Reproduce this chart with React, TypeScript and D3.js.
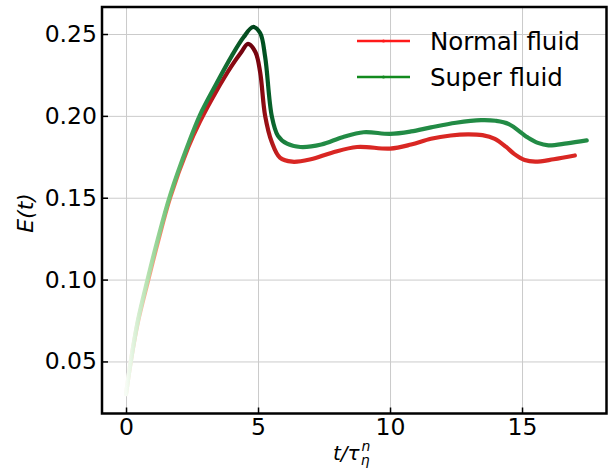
import * as d3 from "d3";
import { useEffect, useRef } from "react";

// time axis t / tau_eta^n and energy E(t)
const normalT = [0, 0.18, 0.45, 0.83, 1.2, 1.67, 2.35, 2.8, 3.4, 4.0, 4.35, 4.62, 4.9, 5.08, 5.27, 5.52, 5.83, 6.3, 7.0, 7.8, 8.75, 10.0, 10.8, 11.55, 12.3, 12.95, 13.5, 13.97, 14.4, 14.7, 15.1, 15.5, 16.2, 17.0];
const normalE = [0.03, 0.05, 0.074, 0.099, 0.1225, 0.15, 0.1805, 0.1965, 0.2145, 0.2305, 0.2385, 0.244, 0.239, 0.2267, 0.2, 0.184, 0.1745, 0.172, 0.1735, 0.1775, 0.181, 0.18, 0.1825, 0.186, 0.188, 0.1887, 0.1882, 0.186, 0.181, 0.1768, 0.173, 0.172, 0.1735, 0.1758];

const superT = [0, 0.18, 0.45, 0.83, 1.2, 1.67, 2.35, 2.8, 3.4, 4.0, 4.45, 4.81, 5.08, 5.27, 5.52, 5.75, 6.1, 6.6, 7.4, 8.2, 9.0, 10.0, 10.8, 11.55, 12.5, 13.45, 14.0, 14.5, 15.2, 15.6, 16.0, 16.7, 17.45];
const superE = [0.03, 0.05, 0.075, 0.101, 0.1245, 0.1515, 0.1825, 0.2005, 0.219, 0.2365, 0.248, 0.2543, 0.2506, 0.236, 0.2, 0.188, 0.183, 0.181, 0.1825, 0.187, 0.19, 0.189, 0.1905, 0.193, 0.1958, 0.1974, 0.197, 0.195, 0.187, 0.1835, 0.182, 0.1832, 0.185];

// colour position along each curve (t, colormap fraction)
const normalStops = [[0, 0.0], [0.8, 0.3], [1.7, 0.5], [3.0, 0.75], [4.62, 1.0], [5.1, 0.95], [5.9, 0.7], [17.0, 0.7]];
const superStops = [[0, 0.0], [0.8, 0.3], [1.7, 0.52], [3.0, 0.75], [4.81, 1.0], [5.3, 0.95], [6.2, 0.75], [17.45, 0.75]];

const xTicks = [0, 5, 10, 15];
const yTicks = [0.05, 0.1, 0.15, 0.2, 0.25];

const W = 608;
const H = 476;
const plot = { left: 102, right: 606.5, top: 7, bottom: 413.5 };
const font = "DejaVu Sans, sans-serif";

export default function App() {
  const xAxisRef = useRef<SVGGElement>(null);
  const yAxisRef = useRef<SVGGElement>(null);
  const xGridRef = useRef<SVGGElement>(null);
  const yGridRef = useRef<SVGGElement>(null);

  const x = d3.scaleLinear().domain([-0.91, 18.2]).range([plot.left, plot.right]);
  const y = d3.scaleLinear().domain([0.0182, 0.2665]).range([plot.bottom, plot.top]);

  useEffect(() => {
    const h = plot.bottom - plot.top;
    const w = plot.right - plot.left;
    d3.select(xGridRef.current!)
      .call(d3.axisBottom(x).tickValues(xTicks).tickSize(-h).tickFormat(() => ""))
      .call((g) => g.select(".domain").remove())
      .call((g) => g.selectAll("line").attr("stroke", "#cbcbcb").attr("stroke-width", 1));
    d3.select(yGridRef.current!)
      .call(d3.axisLeft(y).tickValues(yTicks).tickSize(-w).tickFormat(() => ""))
      .call((g) => g.select(".domain").remove())
      .call((g) => g.selectAll("line").attr("stroke", "#cbcbcb").attr("stroke-width", 1));

    d3.select(xAxisRef.current!)
      .call(d3.axisBottom(x).tickValues(xTicks).tickSize(-6).tickPadding(5).tickFormat(d3.format("d")))
      .call((g) => g.select(".domain").remove())
      .call((g) => g.selectAll("line").attr("stroke", "#000").attr("stroke-width", 1.5))
      .call((g) => g.selectAll("text").attr("font-size", 23.5).attr("font-family", font).attr("fill", "#000"));
    d3.select(yAxisRef.current!)
      .call(d3.axisLeft(y).tickValues(yTicks).tickSize(-6).tickPadding(5).tickFormat(d3.format(".2f")))
      .call((g) => g.select(".domain").remove())
      .call((g) => g.selectAll("line").attr("stroke", "#000").attr("stroke-width", 1.5))
      .call((g) => g.selectAll("text").attr("font-size", 23.5).attr("font-family", font).attr("fill", "#000"));
  }, []);

  const makePath = (ts: number[], es: number[]) =>
    d3
      .line<number>()
      .x((t) => x(t))
      .y((_, i) => y(es[i]))
      .curve(d3.curveCatmullRom.alpha(0.5))(ts) || "";

  const gradient = (id: string, stops: number[][], interp: (v: number) => string) => (
    <linearGradient id={id} gradientUnits="userSpaceOnUse" x1={x(0)} x2={x(18)} y1={0} y2={0}>
      {stops.map(([t, c], i) => (
        <stop key={i} offset={(x(t) - x(0)) / (x(18) - x(0))} stopColor={interp(c)} />
      ))}
    </linearGradient>
  );

  return (
    <svg width={W} height={H} style={{ position: "absolute", left: 0, top: 0, background: "#fff" }}>
      <defs>
        {gradient("gradRed", normalStops, d3.interpolateReds)}
        {gradient("gradGreen", superStops, d3.interpolateGreens)}
        <clipPath id="plotClip">
          <rect x={plot.left} y={plot.top} width={plot.right - plot.left} height={plot.bottom - plot.top} />
        </clipPath>
      </defs>
      <rect x={0} y={0} width={W} height={H} fill="#fff" />
      <g ref={xGridRef} transform={`translate(0,${plot.bottom})`} />
      <g ref={yGridRef} transform={`translate(${plot.left},0)`} />

      <g clipPath="url(#plotClip)">
        <path d={makePath(normalT, normalE)} fill="none" stroke="url(#gradRed)" strokeWidth={4.2} strokeLinecap="round" />
        <path d={makePath(superT, superE)} fill="none" stroke="url(#gradGreen)" strokeWidth={4.2} strokeLinecap="round" />
      </g>

      <rect
        x={plot.left}
        y={plot.top}
        width={plot.right - plot.left}
        height={plot.bottom - plot.top}
        fill="none"
        stroke="#000"
        strokeWidth={2.5}
      />
      <g ref={xAxisRef} transform={`translate(0,${plot.bottom})`} />
      <g ref={yAxisRef} transform={`translate(${plot.left},0)`} />

      {/* legend */}
      <g fontFamily={font} fontSize={24.5}>
        <line x1={357} x2={410} y1={41} y2={41} stroke="#ff1a1a" strokeWidth={2.5} />
        <circle cx={383.5} cy={41} r={1.6} fill="#ff1a1a" />
        <text x={430} y={49.5}>Normal fluid</text>
        <line x1={357} x2={410} y1={77} y2={77} stroke="#128a1e" strokeWidth={2.5} />
        <circle cx={383.5} cy={77} r={1.6} fill="#128a1e" />
        <text x={430} y={85.5}>Super fluid</text>
      </g>

      {/* axis labels */}
      <text x={333} y={460} fontFamily={font} fontSize={20} fontStyle="italic">
        t/τ
        <tspan fontSize={14} dx={1} dy={5}>η</tspan>
        <tspan fontSize={14} dx={-8} dy={-14}>n</tspan>
      </text>
      <text
        transform="translate(33,213) rotate(-90)"
        textAnchor="middle"
        fontFamily={font}
        fontSize={22}
        fontStyle="italic"
      >
        E(t)
      </text>
    </svg>
  );
}
